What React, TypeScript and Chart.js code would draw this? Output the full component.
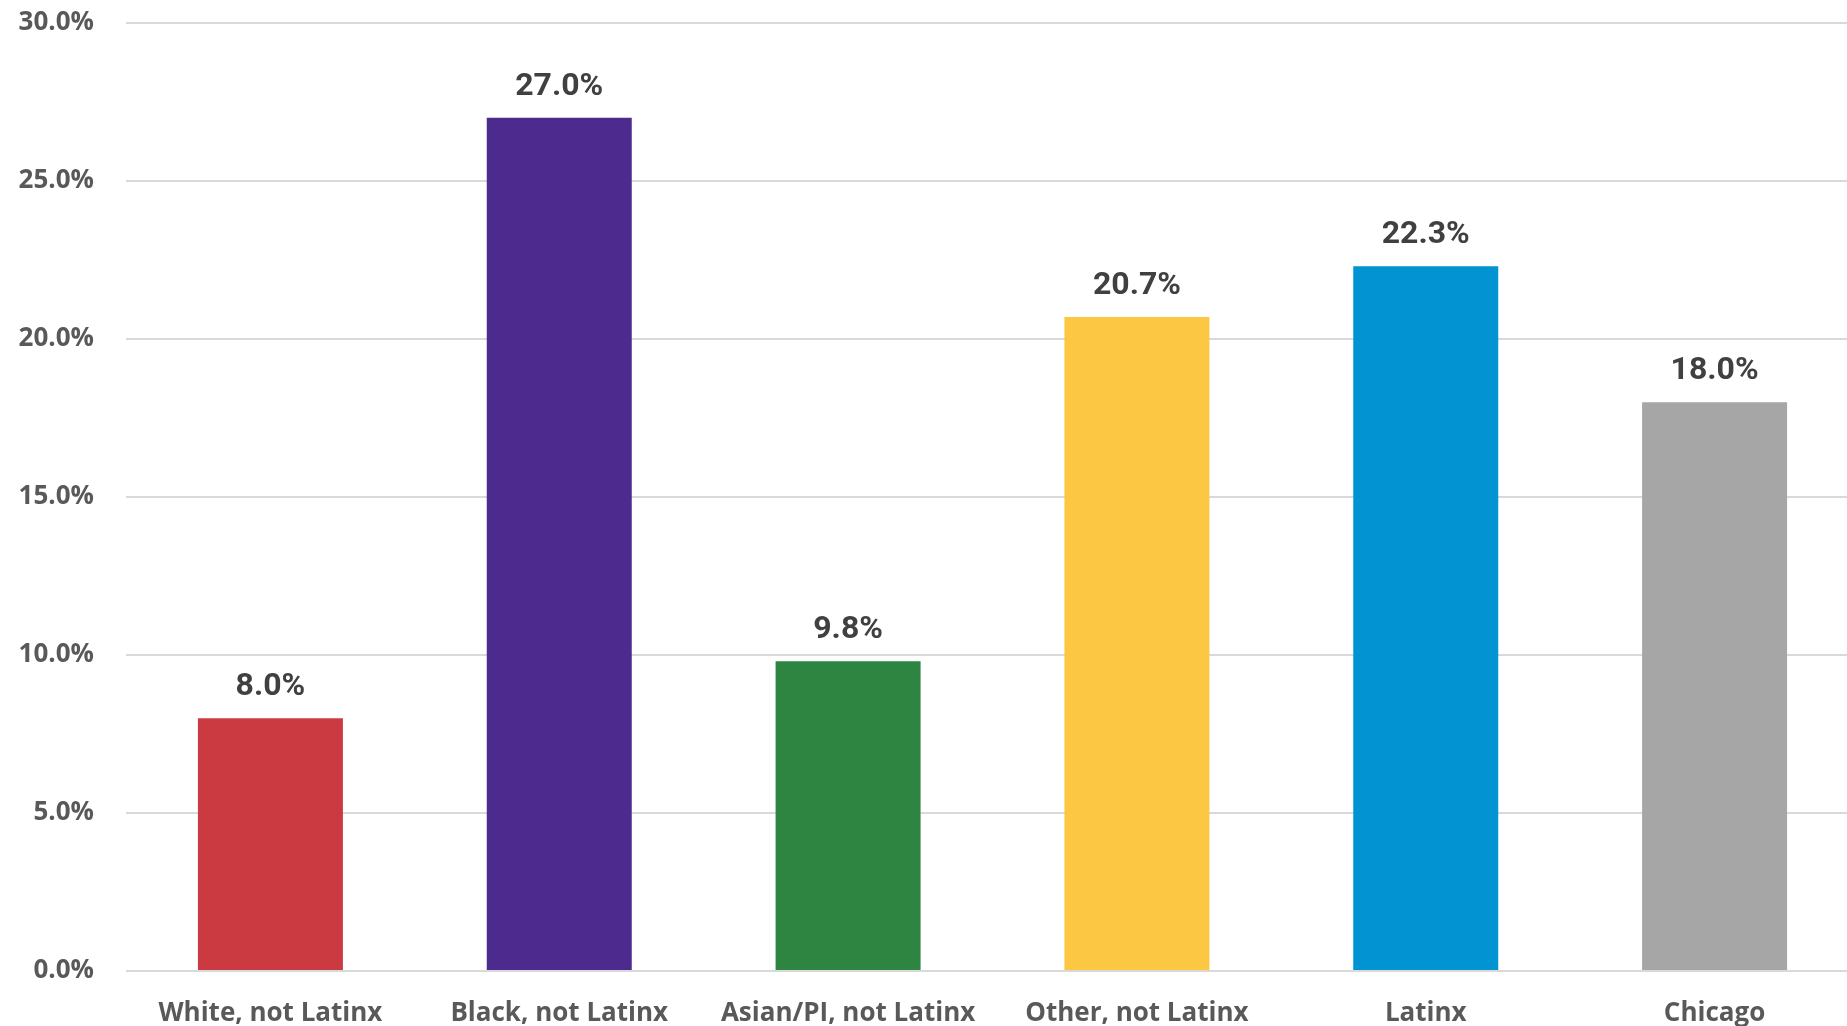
import React, { useEffect, useRef } from "react";
import { Chart, registerables } from "chart.js";

Chart.register(...registerables);

const categories = ["White, not Latinx", "Black, not Latinx", "Asian/PI, not Latinx", "Other, not Latinx", "Latinx", "Chicago"];
const values = [8.0, 27.0, 9.8, 20.7, 22.3, 18.0];
const barColors = ["#CB3A40", "#4C2A8E", "#2E8542", "#FCC743", "#0193D2", "#A6A6A6"];
const yTicks = [0, 5, 10, 15, 20, 25, 30];

const dataLabels = {
  id: "dataLabels",
  afterDatasetsDraw(chart: any) {
    const ctx = chart.ctx;
    const meta = chart.getDatasetMeta(0);
    ctx.save();
    ctx.font = "bold 32px Roboto";
    ctx.fillStyle = "#404040";
    ctx.textAlign = "center";
    ctx.textBaseline = "middle";
    meta.data.forEach((bar: any, i: number) => {
      ctx.fillText(values[i].toFixed(1) + "%", bar.x, bar.y - 31);
    });
    ctx.restore();
  },
};

// The plot area of the original runs slightly past the right edge of the image
const widenArea = {
  id: "widenArea",
  afterLayout(chart: any) {
    const x = chart.scales.x;
    const extra = 12;
    x.right += extra;
    x.width += extra;
    x.configure();
    chart.chartArea.right += extra;
    chart.chartArea.width += extra;
  },
};

export default function App() {
  const ref = useRef<HTMLCanvasElement>(null);
  useEffect(() => {
    document.body.style.margin = "0";
    const chart = new Chart(ref.current!, {
      type: "bar",
      data: {
        labels: categories,
        datasets: [
          {
            data: values,
            backgroundColor: barColors,
            categoryPercentage: 1,
            barPercentage: 0.502,
          },
        ],
      },
      options: {
        responsive: false,
        animation: false,
        layout: { padding: { top: 23, right: 0, left: 0, bottom: 0 } },
        plugins: { legend: { display: false }, tooltip: { enabled: false } },
        scales: {
          x: {
            grid: { display: false, drawTicks: false },
            border: { display: false },
            ticks: {
              color: "#595959",
              font: { family: "Open Sans", weight: "bold", size: 26 },
              padding: 27,
              maxRotation: 0,
              autoSkip: false,
            },
            afterFit(scale: any) {
              scale.height = 55;
              scale.paddingLeft = 0;
              scale.paddingRight = 0;
            },
          },
          y: {
            min: 0,
            max: 30,
            afterBuildTicks(scale: any) {
              scale.ticks = yTicks.map((v) => ({ value: v }));
            },
            grid: { color: "#D9D9D9", lineWidth: 2, drawTicks: false },
            border: { display: false },
            ticks: {
              color: "#595959",
              font: { family: "Open Sans", weight: "bold", size: 26 },
              padding: 32,
              callback: (v: any) => Number(v).toFixed(1) + "%",
            },
            afterFit(scale: any) {
              scale.width = 126;
              scale.paddingTop = 0;
              scale.paddingBottom = 0;
            },
          },
        },
      },
      plugins: [widenArea, dataLabels],
    });
    return () => chart.destroy();
  }, []);
  return <canvas ref={ref} width={1847} height={1026} style={{ display: "block" }} />;
}
